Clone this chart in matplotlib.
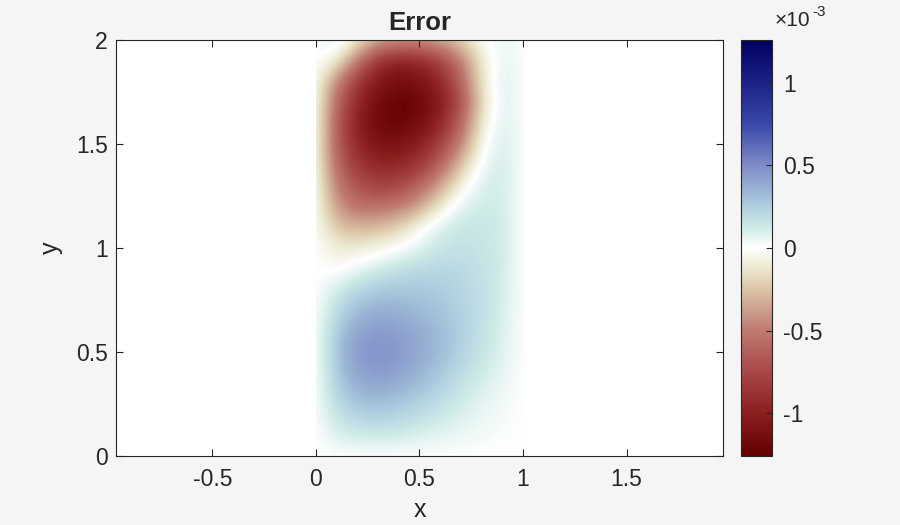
import numpy as np
import matplotlib
matplotlib.use("Agg")
import matplotlib.pyplot as plt
from matplotlib.colors import LinearSegmentedColormap
from matplotlib.patches import Rectangle

plt.rcParams['font.family'] = ['Liberation Sans', 'DejaVu Sans']
plt.rcParams['axes.unicode_minus'] = False

# grid nodes of the error field
x_nodes = [0.0, 0.1, 0.2, 0.3, 0.4, 0.5, 0.6, 0.7, 0.8, 0.9, 1.0]
y_nodes = [2.0, 1.9, 1.8, 1.7, 1.6, 1.5, 1.4, 1.3, 1.2, 1.1, 1.0,
           0.9, 0.8, 0.7, 0.6, 0.5, 0.4, 0.3, 0.2, 0.1, 0.0]

# error values (x 1e-3), rows from y=2 (top) down to y=0
err_e3 = [
    [0.03, 0.10, -0.10, -0.30, -0.38, -0.38, -0.30, -0.18, 0.00, 0.06, 0],
    [0, -0.08, -0.50, -0.90, -1.00, -0.95, -0.80, -0.50, -0.10, 0.08, 0],
    [0, -0.45, -0.85, -1.05, -1.15, -1.10, -0.95, -0.60, -0.10, 0.10, 0],
    [0, -0.60, -0.95, -1.15, -1.25, -1.20, -1.05, -0.70, -0.15, 0.10, 0],
    [0, -0.65, -1.00, -1.20, -1.22, -1.15, -0.95, -0.60, -0.08, 0.10, 0],
    [0, -0.65, -0.95, -1.10, -1.10, -1.00, -0.80, -0.45, -0.02, 0.12, 0],
    [0, -0.60, -0.85, -0.95, -0.95, -0.85, -0.60, -0.25, 0.05, 0.12, 0],
    [0, -0.50, -0.70, -0.80, -0.75, -0.60, -0.35, -0.05, 0.10, 0.12, 0],
    [0, -0.40, -0.55, -0.55, -0.50, -0.35, -0.10, 0.08, 0.12, 0.12, 0],
    [0, -0.25, -0.30, -0.28, -0.20, -0.02, 0.10, 0.15, 0.15, 0.12, 0],
    [0, -0.10, -0.10, -0.05, 0.00, 0.08, 0.15, 0.18, 0.15, 0.12, 0],
    [0, -0.03, 0.05, 0.12, 0.18, 0.20, 0.22, 0.20, 0.17, 0.12, 0],
    [0, 0.12, 0.22, 0.27, 0.28, 0.28, 0.26, 0.22, 0.18, 0.10, 0],
    [0, 0.20, 0.33, 0.37, 0.36, 0.33, 0.29, 0.24, 0.18, 0.10, 0],
    [0, 0.27, 0.41, 0.45, 0.43, 0.38, 0.32, 0.25, 0.17, 0.09, 0],
    [0, 0.30, 0.45, 0.48, 0.45, 0.39, 0.32, 0.24, 0.15, 0.08, 0],
    [0, 0.28, 0.42, 0.45, 0.42, 0.35, 0.28, 0.20, 0.12, 0.06, 0],
    [0, 0.23, 0.34, 0.36, 0.33, 0.28, 0.21, 0.14, 0.08, 0.04, 0],
    [0, 0.17, 0.24, 0.26, 0.23, 0.19, 0.14, 0.09, 0.05, 0.03, 0],
    [0, 0.09, 0.12, 0.13, 0.12, 0.09, 0.07, 0.05, 0.03, 0.01, 0],
    [0, 0, 0, 0, 0, 0, 0, 0, 0, 0, 0],
]

clim = 1.26
cbar_ticks = [-1, -0.5, 0, 0.5, 1]

# diverging map: dark red (negative) -> white -> navy (positive)
cmap_pos = [-1.26, -1.0, -0.75, -0.5, -0.4, -0.25, -0.12, 0.0,
            0.12, 0.25, 0.35, 0.5, 0.75, 1.0, 1.26]
cmap_cols = ['#640000', '#8c1e1e', '#a84848', '#c07a70', '#c89888', '#dcc4a6',
             '#ece9d0', '#ffffff', '#d0ece8', '#b0d0e0', '#9ab4d4', '#7f8cc8',
             '#3a48a8', '#1c2288', '#00005e']
cmap = LinearSegmentedColormap.from_list(
    'err', list(zip([(p + clim) / (2 * clim) for p in cmap_pos], cmap_cols)), N=512)

fig = plt.figure(figsize=(9, 5.25), dpi=100, facecolor='#f5f5f5')
ax = fig.add_axes([116 / 900, 69 / 525, 607 / 900, 416 / 525])
ax.set_facecolor('white')

dx = x_nodes[1] - x_nodes[0]
dy = y_nodes[0] - y_nodes[1]
im = ax.imshow(np.array(err_e3), cmap=cmap, vmin=-clim, vmax=clim,
               extent=(x_nodes[0] - dx / 2, x_nodes[-1] + dx / 2,
                       y_nodes[-1] - dy / 2, y_nodes[0] + dy / 2),
               origin='upper', interpolation='bicubic', aspect='auto')
im.set_clip_path(Rectangle((0, 0), 1, 2, transform=ax.transData))

ax.set_xlim(-0.966, 1.966)
ax.set_ylim(0, 2)
ax.set_xticks([-0.5, 0, 0.5, 1, 1.5])
ax.set_xticklabels(['-0.5', '0', '0.5', '1', '1.5'])
ax.set_yticks([0, 0.5, 1, 1.5, 2])
ax.set_yticklabels(['0', '0.5', '1', '1.5', '2'])
ax.tick_params(direction='in', length=5, width=0.8, colors='#262626',
               labelsize=16.5, top=True, right=True)
ax.tick_params(axis='x', pad=9)
ax.tick_params(axis='y', pad=6)
for s in ax.spines.values():
    s.set_color('#262626')
    s.set_linewidth(0.8)
ax.set_xlabel('x', fontsize=18, color='#262626', labelpad=5)
ax.set_ylabel('y', fontsize=18, color='#262626', labelpad=9)
ax.set_title('Error', fontsize=18.5, fontweight='bold', color='#262626', pad=7)

cax = fig.add_axes([741 / 900, 69 / 525, 31 / 900, 416 / 525])
cb = fig.colorbar(im, cax=cax, ticks=cbar_ticks)
cb.ax.set_yticklabels(['-1', '-0.5', '0', '0.5', '1'])
cb.ax.tick_params(direction='in', length=4, width=0.8, colors='#262626',
                  labelsize=16.5, pad=8)
cb.outline.set_edgecolor('#262626')
cb.outline.set_linewidth(0.8)
# multiplier label above the colorbar
fig.text(775 / 900, 1 - 20 / 525, '×10', fontsize=15, color='#262626',
         ha='left', va='center')
fig.text(812 / 900, 1 - 12 / 525, '-3', fontsize=11, color='#262626',
         ha='left', va='center')

fig.savefig('out.png', dpi=100, facecolor=fig.get_facecolor())
